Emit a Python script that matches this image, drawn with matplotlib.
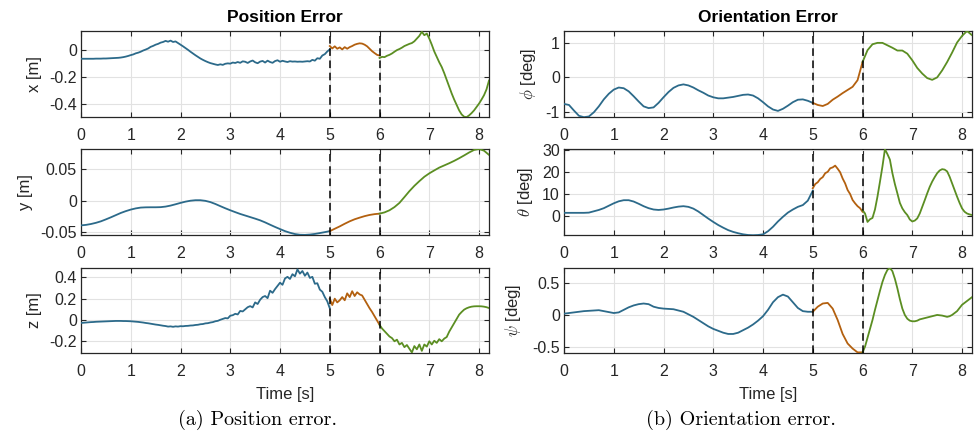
import numpy as np
import matplotlib
matplotlib.use("Agg")
import matplotlib.pyplot as plt

# ---------------- data ----------------
SEGMENTS = [(0.0, 5.0), (5.0, 6.0), (6.0, 8.2)]
SEG_COLORS = ["#2c6a8a", "#b3600f", "#5b8e22"]
EVENT_TIMES = [5, 6]

x_blue = [-0.064, -0.064, -0.064, -0.064, -0.064, -0.064, -0.063, -0.063, -0.063, -0.062,
          -0.062, -0.061, -0.060, -0.059, -0.058, -0.057, -0.055, -0.052, -0.048, -0.043,
          -0.037, -0.032, -0.024, -0.019, -0.012, -0.003, 0.004, 0.012, 0.024, 0.031,
          0.040, 0.046, 0.055, 0.060, 0.068, 0.062, 0.070, 0.060, 0.064, 0.052,
          0.040, 0.028, 0.015, 0.002, -0.012, -0.025, -0.038, -0.050, -0.062, -0.072,
          -0.081, -0.089, -0.096, -0.101, -0.106, -0.110, -0.105, -0.109, -0.101, -0.098,
          -0.100, -0.092, -0.095, -0.088, -0.094, -0.083, -0.086, -0.095, -0.084, -0.077,
          -0.090, -0.097, -0.085, -0.080, -0.092, -0.078, -0.088, -0.094, -0.081, -0.075,
          -0.086, -0.079, -0.084, -0.088, -0.082, -0.085, -0.084, -0.086, -0.085, -0.086,
          -0.084, -0.082, -0.084, -0.072, -0.078, -0.060, -0.064, -0.040, -0.030, -0.010,
          0.005]
x_orange = [0.030, 0.012, 0.028, 0.010, 0.020, 0.005, 0.022, 0.010, 0.022, 0.030,
            0.040, 0.046, 0.050, 0.048, 0.040, 0.028, 0.010, -0.008, -0.022, -0.035, -0.040]
x_green = [-0.058, -0.050, -0.052, -0.042, -0.035, -0.025, -0.012, 0.000, 0.008, 0.018,
           0.030, 0.038, 0.046, 0.052, 0.065, 0.085, 0.105, 0.135, 0.110, 0.122,
           0.085, 0.040, -0.010, -0.050, -0.090, -0.125, -0.170, -0.220, -0.270, -0.320,
           -0.365, -0.405, -0.445, -0.475, -0.492, -0.495, -0.482, -0.465, -0.445, -0.420,
           -0.395, -0.365, -0.333, -0.290, -0.225]

y_blue = [-0.0398, -0.0390, -0.0376, -0.0357, -0.0333, -0.0302, -0.0269, -0.0234, -0.0199, -0.0170,
          -0.0145, -0.0126, -0.0113, -0.0109, -0.0108, -0.0108, -0.0106, -0.0097, -0.0081, -0.0060,
          -0.0038, -0.0018, -0.0003, 0.0005, 0.0005, -0.0005, -0.0025, -0.0055, -0.0090, -0.0124,
          -0.0156, -0.0186, -0.0215, -0.0240, -0.0265, -0.0290, -0.0317, -0.0350, -0.0387, -0.0423,
          -0.0457, -0.0490, -0.0516, -0.0537, -0.0548, -0.0550, -0.0545, -0.0535, -0.0521, -0.0506,
          -0.0490]
y_orange = [-0.0490, -0.0452, -0.0414, -0.0372, -0.0333, -0.0300, -0.0274, -0.0250, -0.0231, -0.0218, -0.0210]
y_green = [-0.0210, -0.0190, -0.0156, -0.0105, -0.0038, 0.0055, 0.0150, 0.0235, 0.0310, 0.0380,
           0.0435, 0.0482, 0.0527, 0.0562, 0.0597, 0.0635, 0.0677, 0.0722, 0.0769, 0.0810,
           0.0825, 0.0798, 0.0731]

z_blue = [-0.028, -0.026, -0.024, -0.022, -0.020, -0.019, -0.017, -0.016, -0.015, -0.014,
          -0.013, -0.012, -0.011, -0.010, -0.009, -0.009, -0.009, -0.010, -0.010, -0.011,
          -0.012, -0.014, -0.016, -0.018, -0.021, -0.024, -0.028, -0.031, -0.035, -0.039,
          -0.043, -0.046, -0.050, -0.054, -0.057, -0.062, -0.060, -0.064, -0.060, -0.062,
          -0.058, -0.059, -0.056, -0.055, -0.052, -0.051, -0.047, -0.045, -0.040, -0.038,
          -0.032, -0.030, -0.024, -0.020, -0.012, -0.008, 0.002, 0.010, 0.018, 0.015,
          0.040, 0.045, 0.058, 0.052, 0.085, 0.080, 0.100, 0.120, 0.130, 0.118,
          0.165, 0.150, 0.190, 0.215, 0.225, 0.205, 0.275, 0.255, 0.290, 0.320,
          0.350, 0.330, 0.390, 0.405, 0.385, 0.430, 0.410, 0.475, 0.435, 0.460,
          0.415, 0.445, 0.395, 0.405, 0.340, 0.345, 0.285, 0.265, 0.215, 0.175,
          0.110]
z_orange = [0.200, 0.140, 0.200, 0.165, 0.185, 0.215, 0.185, 0.250, 0.215, 0.270,
            0.225, 0.260, 0.240, 0.230, 0.190, 0.150, 0.110, 0.075, 0.035, -0.005, -0.045]
z_green = [-0.045, -0.080, -0.105, -0.130, -0.155, -0.170, -0.200, -0.185, -0.230, -0.215,
           -0.255, -0.235, -0.270, -0.305, -0.245, -0.275, -0.230, -0.290, -0.230, -0.250,
           -0.200, -0.230, -0.195, -0.215, -0.180, -0.200, -0.175, -0.160, -0.110, -0.070,
           -0.030, 0.010, 0.050, 0.075, 0.097, 0.110, 0.119, 0.125, 0.128, 0.129,
           0.129, 0.128, 0.125, 0.120, 0.112]

phi_blue = [-0.76, -0.79, -0.95, -1.10, -1.14, -1.12, -1.00, -0.83, -0.63, -0.47,
            -0.35, -0.29, -0.31, -0.40, -0.54, -0.69, -0.83, -0.88, -0.86, -0.73,
            -0.57, -0.42, -0.30, -0.23, -0.20, -0.23, -0.29, -0.37, -0.44, -0.52,
            -0.57, -0.60, -0.60, -0.58, -0.56, -0.53, -0.50, -0.49, -0.52, -0.60,
            -0.71, -0.83, -0.92, -0.96, -0.90, -0.81, -0.71, -0.64, -0.63, -0.67,
            -0.73]
phi_orange = [-0.73, -0.79, -0.82, -0.76, -0.64, -0.55, -0.45, -0.36, -0.27, -0.08, 0.44]
phi_green = [0.44, 0.78, 0.95, 0.99, 0.99, 0.92, 0.85, 0.77, 0.77, 0.68,
             0.49, 0.27, 0.11, -0.02, -0.07, 0.00, 0.20, 0.44, 0.71, 1.00,
             1.19, 1.33, 1.21]

theta_blue = [1.5, 1.5, 1.5, 1.5, 1.5, 1.6, 2.2, 2.8, 3.6, 4.7,
              5.8, 6.7, 7.2, 7.2, 6.6, 5.6, 4.5, 3.6, 3.0, 2.8,
              3.0, 3.4, 3.9, 4.3, 4.5, 4.2, 3.4, 2.1, 0.5, -1.1,
              -2.6, -4.0, -5.2, -6.3, -7.1, -7.7, -8.2, -8.5, -8.6, -8.5,
              -8.2, -6.8, -4.8, -2.4, -0.3, 1.6, 3.0, 4.2, 5.0, 7.0,
              11.5]
theta_orange = [12.6, 14.5, 15.3, 16.8, 17.6, 19.4, 20.0, 21.6, 22.0, 22.8,
                21.4, 19.8, 17.0, 14.8, 11.8, 10.0, 7.3, 5.8, 4.5, 3.6, 2.0]
theta_green = [2.7, 1.2, -2.6, -1.4, -0.8, 3.0, 8.8, 15.5, 22.4, 30.2,
               28.0, 25.5, 19.4, 14.5, 10.3, 6.0, 3.5, 1.8, 0.5, -1.5,
               -2.4, -2.0, -1.0, 1.2, 4.2, 7.2, 10.3, 13.2, 15.6, 17.6,
               19.4, 20.6, 21.2, 21.0, 20.2, 17.8, 14.8, 11.8, 8.8, 6.0,
               3.5, 2.0, 1.2, 0.8, 0.5]

psi_blue = [0.02, 0.03, 0.04, 0.05, 0.06, 0.065, 0.07, 0.075, 0.06, 0.045,
            0.03, 0.04, 0.08, 0.12, 0.15, 0.17, 0.18, 0.17, 0.13, 0.11,
            0.10, 0.095, 0.09, 0.07, 0.05, 0.01, -0.03, -0.08, -0.13, -0.18,
            -0.22, -0.25, -0.28, -0.30, -0.30, -0.28, -0.24, -0.20, -0.15, -0.09,
            -0.02, 0.08, 0.20, 0.28, 0.32, 0.29, 0.20, 0.11, 0.06, 0.05,
            0.05]
psi_orange = [0.05, 0.13, 0.18, 0.19, 0.10, -0.08, -0.30, -0.45, -0.53, -0.59, -0.59]
psi_green = [-0.59, -0.50, -0.36, -0.22, -0.08, 0.08, 0.23, 0.38, 0.52, 0.63,
             0.71, 0.74, 0.69, 0.57, 0.42, 0.25, 0.10, 0.00, -0.06, -0.09,
             -0.10, -0.10, -0.09, -0.07, -0.06, -0.05, -0.04, -0.03, -0.02, -0.01,
             0.00, -0.005, -0.01, -0.02, -0.03, -0.02, 0.00, 0.03, 0.06, 0.11,
             0.16, 0.19, 0.22, 0.25, 0.28]

x_ticks = [0, 1, 2, 3, 4, 5, 6, 7, 8]
x_ticklabels = ["0", "1", "2", "3", "4", "5", "6", "7", "8"]

PANELS = [
    # (col, row, series, ylabel, ylim, yticks, yticklabels, label_x)
    (0, 0, [x_blue, x_orange, x_green], "x [m]", (-0.494, 0.141), [-0.4, -0.2, 0], ["-0.4", "-0.2", "0"], -0.096),
    (0, 1, [y_blue, y_orange, y_green], "y [m]", (-0.0552, 0.0825), [-0.05, 0, 0.05], ["-0.05", "0", "0.05"], -0.118),
    (0, 2, [z_blue, z_orange, z_green], "z [m]", (-0.31, 0.488), [-0.2, 0, 0.2, 0.4], ["-0.2", "0", "0.2", "0.4"], -0.096),
    (1, 0, [phi_blue, phi_orange, phi_green], r"$\phi$ [deg]", (-1.135, 1.33), [-1, 0, 1], ["-1", "0", "1"], -0.064),
    (1, 1, [theta_blue, theta_orange, theta_green], r"$\theta$ [deg]", (-8.5, 30.3), [0, 10, 20, 30], ["0", "10", "20", "30"], -0.071),
    (1, 2, [psi_blue, psi_orange, psi_green], r"$\psi$ [deg]", (-0.60, 0.74), [-0.5, 0, 0.5], ["-0.5", "0", "0.5"], -0.10),
]

# ---------------- figure ----------------
plt.rcParams["font.family"] = ["Liberation Sans", "DejaVu Sans"]
plt.rcParams["mathtext.fontset"] = "cm"
plt.rcParams["axes.unicode_minus"] = False

W, H = 978, 438
fig = plt.figure(figsize=(W / 100, H / 100), dpi=100)

col_left = [81, 564]
ax_w = 408
row_top = [31, 149, 268]
row_h = [86, 86, 85]
DARK = "#262626"

for col, row, series, ylab, ylim, yt, ytl, lx in PANELS:
    left = col_left[col] / W
    bottom = 1 - (row_top[row] + row_h[row]) / H
    ax = fig.add_axes([left, bottom, ax_w / W, row_h[row] / H])
    for vals, (t0, t1), c in zip(series, SEGMENTS, SEG_COLORS):
        t = np.linspace(t0, t1, len(vals))
        ax.plot(t, vals, color=c, lw=1.3, zorder=3)
    for et in EVENT_TIMES:
        ax.axvline(et, color="k", lw=1.1, ls=(0, (5, 3)), zorder=4)
    ax.set_xlim(0, 8.2)
    ax.set_ylim(*ylim)
    ax.set_xticks(x_ticks, x_ticklabels)
    ax.set_yticks(yt, ytl)
    ax.grid(True, color="#e2e2e2", lw=0.8)
    ax.set_axisbelow(True)
    ax.tick_params(axis="both", direction="in", top=True, right=True, length=3.5,
                   width=0.8, color=DARK, labelcolor=DARK, labelsize=11.5)
    ax.tick_params(axis="x", pad=8)
    ax.tick_params(axis="y", pad=3)
    for sp in ax.spines.values():
        sp.set_color(DARK)
        sp.set_linewidth(0.9)
    ax.set_ylabel(ylab, fontsize=12, color=DARK)
    ax.yaxis.set_label_coords(lx, 0.5)
    if row == 2:
        ax.set_xlabel("Time [s]", fontsize=12, color=DARK, labelpad=6)

fig.text((81 + 204) / W, 1 - 17 / H, "Position Error", ha="center", va="center",
         fontsize=12.5, fontweight="bold")
fig.text((564 + 204) / W, 1 - 17 / H, "Orientation Error", ha="center", va="center",
         fontsize=12.5, fontweight="bold")

fig.text(258 / W, 1 - 420 / H, "(a) Position error.", ha="center", va="center",
         fontsize=14.5, family="cmr10")
fig.text(741 / W, 1 - 420 / H, "(b) Orientation error.", ha="center", va="center",
         fontsize=14.5, family="cmr10")

fig.savefig("out.png", dpi=100)
